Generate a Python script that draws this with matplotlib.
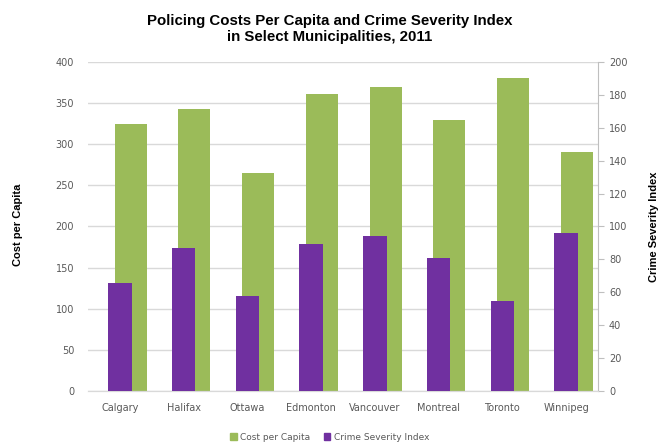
import numpy as np
import matplotlib
matplotlib.use("Agg")
import matplotlib.pyplot as plt
from matplotlib.patches import Patch

cities = ["Calgary", "Halifax", "Ottawa", "Edmonton", "Vancouver", "Montreal", "Toronto", "Winnipeg"]
cost_per_capita = [325, 343, 265, 361, 369, 330, 380, 291]
crime_index = [65.7, 87.0, 57.8, 89.2, 94.4, 81.0, 54.9, 95.9]

green = "#9BBB59"
purple = "#7030A0"
tick_col = "#595959"

fig = plt.figure(figsize=(6.64, 4.47), dpi=100)
ax = fig.add_axes([0.1325, 0.1253, 0.768, 0.736])
ax2 = ax.twinx()

x = np.arange(len(cities))
# green bar sits to the right, partly behind the purple one
ax.bar(x + 0.17, cost_per_capita, width=0.5, color=green, zorder=2)
ax2.bar(x, crime_index, width=0.37, color=purple, zorder=3)

ax.set_xlim(-0.5, len(cities) - 0.5)
ax.set_ylim(0, 400)
ax2.set_ylim(0, 200)
ax.set_yticks(np.arange(0, 401, 50))
ax2.set_yticks(np.arange(0, 201, 20))
ax.set_xticks(x)
ax.set_xticklabels(cities)

ax.grid(axis="y", color="#D9D9D9", linewidth=1, zorder=0)
ax.set_axisbelow(True)

for a in (ax, ax2):
    for s in ("top", "left"):
        a.spines[s].set_visible(False)
ax.spines["right"].set_visible(False)
ax2.spines["bottom"].set_color("#D9D9D9")
ax.spines["bottom"].set_color("#D9D9D9")
ax2.spines["right"].set_color("#BFBFBF")

ax.tick_params(axis="y", length=0, labelsize=7, labelcolor=tick_col, pad=10)
ax.tick_params(axis="x", length=0, labelsize=7, labelcolor=tick_col, pad=9)
ax2.tick_params(axis="y", length=4, color="#BFBFBF", labelsize=7, labelcolor=tick_col, pad=4)

fig.text(0.027, 0.497, "Cost per Capita", rotation=90, ha="center", va="center",
         fontsize=8, fontweight="bold", family="Liberation Sans")
fig.text(0.985, 0.492, "Crime Severity Index", rotation=90, ha="center", va="center",
         fontsize=8, fontweight="bold", family="Liberation Sans")
fig.text(0.497, 0.935, "Policing Costs Per Capita and Crime Severity Index\nin Select Municipalities, 2011",
         ha="center", va="center", fontsize=10.8, fontweight="bold", family="Liberation Sans",
         linespacing=1.15)

handles = [Patch(color=green, label="Cost per Capita"), Patch(color=purple, label="Crime Severity Index")]
leg = fig.legend(handles=handles, loc="center", bbox_to_anchor=(0.497, 0.022), ncol=2, frameon=False,
                 fontsize=6.5, handlelength=0.7, handleheight=0.7, handletextpad=0.4, columnspacing=1.5)
for t in leg.get_texts():
    t.set_color(tick_col)

fig.savefig("out.png", dpi=100)
